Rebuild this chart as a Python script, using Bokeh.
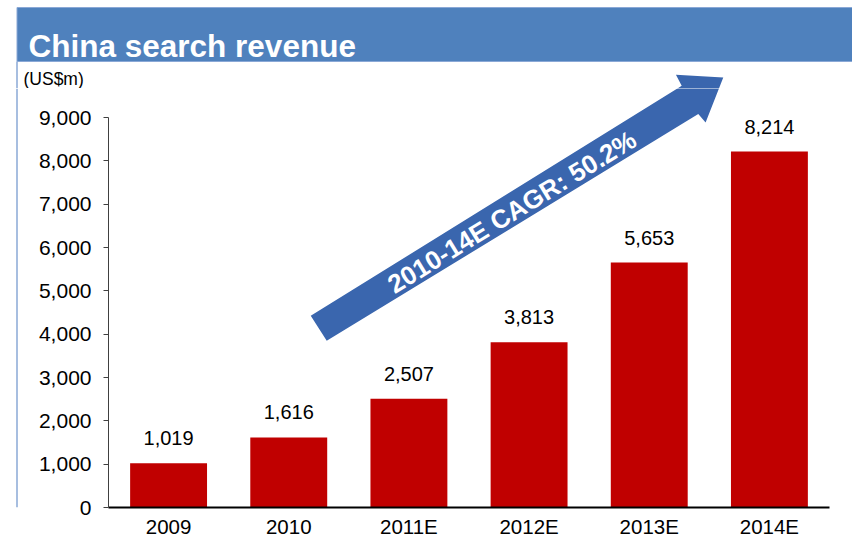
import math
from bokeh.plotting import figure
from bokeh.layouts import column, row
from bokeh.models import Range1d, FactorRange, NumeralTickFormatter, FixedTicker
from bokeh.core.properties import value
from bokeh.embed import file_html
from bokeh.resources import INLINE

TITLE = "China search revenue"
UNIT = "(US$m)"
CATEGORIES = ["2009", "2010", "2011E", "2012E", "2013E", "2014E"]
REVENUE = [1019, 1616, 2507, 3813, 5653, 8214]
Y_TICKS = [0, 1000, 2000, 3000, 4000, 5000, 6000, 7000, 8000, 9000]
CAGR_LABEL = "2010-14E CAGR: 50.2%"
# decorative arrow outline (category-axis synthetic x, value-axis y)
ARROW_X = [1.683, 4.770, 4.722, 5.116, 4.969, 4.908, 1.816]
ARROW_Y = [4424, 9732, 9986, 9924, 8885, 9079, 3847]
ARROW_TEXT_POS = (3.358, 6824)
ARROW_ANGLE_DEG = 31.5

FONT = "Liberation Sans"
BLUE_BAR = "#4F81BD"
BORDER = "#8AA8D6"
ARROW_COLOR = "#3A66AE"

# layout geometry (pixels)
W = 852
TOP_H = 88
MAIN_H = 452
STRIP_W = 18
BORDER_L, BORDER_R, BORDER_B = 90, 23, 33
MAIN_W = W - STRIP_W
FRAME_W = MAIN_W - BORDER_L - BORDER_R
FRAME_H = MAIN_H - BORDER_B
Y_MAX = 9670
N = len(CATEGORIES)
FRAME_LEFT = STRIP_W + BORDER_L

# ---- title bar (also carries the unit label and top of the arrow) ----
t = figure(width=W, height=TOP_H, x_range=Range1d(0, W), y_range=Range1d(0, TOP_H),
           min_border=0, toolbar_location=None, output_backend="svg",
           x_axis_location=None, y_axis_location=None)
t.grid.visible = False
t.outline_line_color = None
t.extra_x_ranges = {"cat": Range1d(-FRAME_LEFT * N / FRAME_W, (W - FRAME_LEFT) * N / FRAME_W)}
t.extra_y_ranges = {"val": Range1d(Y_MAX, Y_MAX + TOP_H * Y_MAX / FRAME_H)}
t.quad(left=16.5, right=W + 8, bottom=TOP_H - 61, top=TOP_H - 7,
       fill_color=BLUE_BAR, line_color=BORDER, line_width=1)
t.segment(x0=[16.5], y0=[0], x1=[16.5], y1=[TOP_H - 61], line_color=BORDER, line_width=1.5)
t.text(x=[28], y=[TOP_H - 45], text=[TITLE], text_color="white", text_font=value(FONT),
       text_font_style="bold", text_font_size="31.5px", text_align="left", text_baseline="alphabetic")
t.text(x=[23], y=[TOP_H - 78], text=[UNIT], text_color="black", text_font=value(FONT),
       text_font_size="17.5px", text_align="left", text_baseline="middle")
t.patch(ARROW_X, ARROW_Y, fill_color=ARROW_COLOR, line_color=None,
        x_range_name="cat", y_range_name="val")

# ---- left border strip ----
s = figure(width=STRIP_W, height=MAIN_H, x_range=Range1d(0, STRIP_W), y_range=Range1d(0, MAIN_H),
           min_border=0, toolbar_location=None, output_backend="svg",
           x_axis_location=None, y_axis_location=None)
s.grid.visible = False
s.outline_line_color = None
s.segment(x0=[16.5], y0=[0], x1=[16.5], y1=[MAIN_H], line_color=BORDER, line_width=1.5)

# ---- main chart ----
p = figure(x_range=FactorRange(*CATEGORIES), y_range=Range1d(0, Y_MAX),
           width=MAIN_W, height=MAIN_H, min_border_left=BORDER_L, min_border_right=BORDER_R,
           min_border_top=0, min_border_bottom=BORDER_B,
           toolbar_location=None, output_backend="svg")
p.grid.visible = False
p.outline_line_color = None

p.vbar(x=CATEGORIES, top=REVENUE, width=0.64, fill_color="#C00000", line_color=None)
p.text(x=CATEGORIES, y=REVENUE, text=[f"{v:,}" for v in REVENUE], text_align="center",
       text_baseline="alphabetic", y_offset=-25, text_font=value(FONT),
       text_font_size="20px", text_color="black")

p.patch(ARROW_X, ARROW_Y, fill_color=ARROW_COLOR, line_color=None)
p.text(x=[ARROW_TEXT_POS[0]], y=[ARROW_TEXT_POS[1]], text=[CAGR_LABEL],
       angle=math.radians(ARROW_ANGLE_DEG), text_align="center", text_baseline="middle",
       text_font=value(FONT), text_font_style="bold", text_font_size="26px", text_color="white")

ya = p.yaxis[0]
ya.bounds = (0, 9000)
ya.ticker = FixedTicker(ticks=Y_TICKS)
ya.formatter = NumeralTickFormatter(format="0,0")
ya.major_tick_out = 5
ya.major_tick_in = 0
ya.minor_tick_line_color = None
ya.major_label_standoff = 12
ya.axis_line_color = "#404040"
ya.major_tick_line_color = "#404040"
ya.major_label_text_font = FONT
ya.major_label_text_font_size = "21px"
ya.major_label_text_color = "black"

xa = p.xaxis[0]
xa.major_tick_line_color = None
xa.minor_tick_line_color = None
xa.major_tick_out = 0
xa.major_tick_in = 0
xa.axis_line_color = "black"
xa.axis_line_width = 2
xa.major_label_standoff = 7
xa.major_label_text_font = FONT
xa.major_label_text_font_size = "20.5px"
xa.major_label_text_color = "black"

layout = column(t, row(s, p, spacing=0), spacing=0)
open("out.html", "w").write(file_html(layout, INLINE))
